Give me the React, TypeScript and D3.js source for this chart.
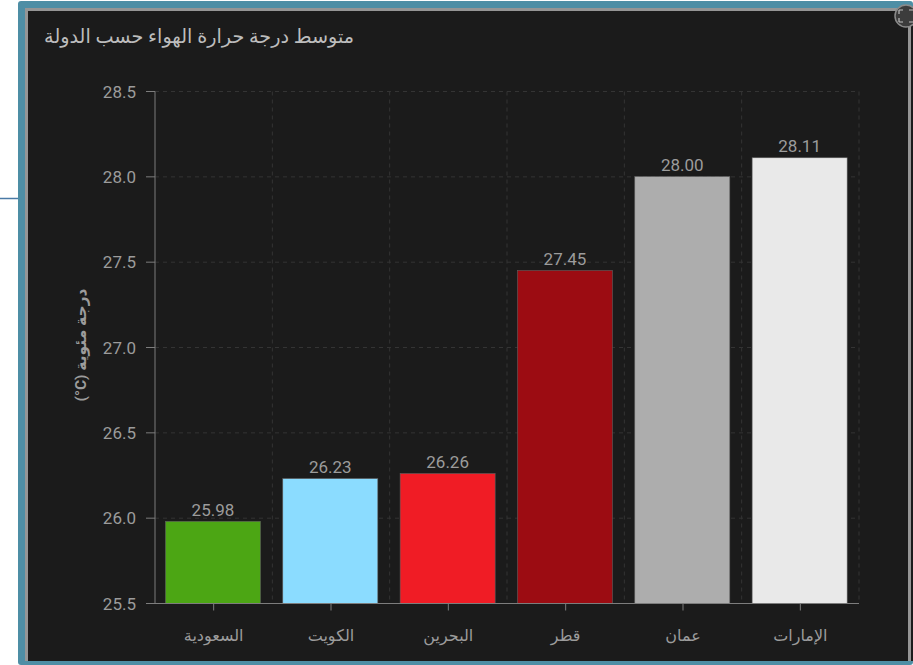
import React from "react";
import * as d3 from "d3";

const categories = ["السعودية", "الكويت", "البحرين", "قطر", "عمان", "الإمارات"];
const temps = [25.98, 26.23, 26.26, 27.45, 28.0, 28.11];
const barColors = ["#4ca614", "#8bdcff", "#f01c25", "#9c0c12", "#adadad", "#e9e9e9"];
const yTicks = [25.5, 26.0, 26.5, 27.0, 27.5, 28.0, 28.5];
const chartTitle = "متوسط درجة حرارة الهواء حسب الدولة";
const yTitle = "درجة مئوية \u2066(°C)\u2069";

const W = 913;
const H = 665;
const FONT = "Roboto, 'DejaVu Sans', sans-serif";
const plot = { l: 155, r: 859, t: 91.5, b: 603.5 };

export default function App() {
  const x = d3.scaleBand<string>().domain(categories).range([plot.l - 0.7, plot.r - 0.7]).paddingInner(0.19).paddingOuter(0.095);
  const band = d3.scaleBand<string>().domain(categories).range([plot.l, plot.r]);
  const y = d3.scaleLinear().domain([25.5, 28.5]).range([plot.b, plot.t]);
  const gridX = [...categories.map((c) => band(c)!).slice(1), plot.r];
  const axis = "#7d7d7d";
  const grid = "#343434";
  const label = "#9c9c9c";
  return (
    <svg width={W} height={H} viewBox={`0 0 ${W} ${H}`} style={{ position: "absolute", left: 0, top: 0, background: "#fff" }} fontFamily={FONT}>
      <line x1={0} x2={18} y1={198.5} y2={198.5} stroke="#4a7aa6" strokeWidth={1.5} />
      <rect x={18} y={1} width={W - 18} height={H - 1} rx={3} fill="#4e8ea5" />
      <rect x={25} y={8} width={W - 25} height={653} fill="#959595" />
      <rect x={28} y={11} width={880} height={650} fill="#1b1b1b" />
      <rect x={911} y={11} width={2} height={650} fill="#1b1b1b" />

      <text x={354} y={43} textAnchor="start" direction="rtl" fontSize={19.2} fill="#bdbdbd">{chartTitle}</text>

      {yTicks.map((t) => (
        <line key={t} x1={plot.l} x2={plot.r} y1={y(t)} y2={y(t)} stroke={grid} strokeDasharray="4 4" />
      ))}
      {gridX.map((gx) => (
        <line key={gx} x1={gx} x2={gx} y1={plot.t} y2={plot.b} stroke={grid} strokeDasharray="4 4" />
      ))}

      {categories.map((c, i) => (
        <g key={c}>
          <rect x={x(c)} y={y(temps[i]) - 0.3} width={x.bandwidth()} height={plot.b - y(temps[i]) + 0.3} fill={barColors[i]} stroke="#5f5f5f" strokeWidth={0.6} />
          <text x={x(c)! + x.bandwidth() / 2} y={y(temps[i]) - 6} textAnchor="middle" fontSize={17} fill={label}>
            {temps[i].toFixed(2)}
          </text>
          <line x1={band(c)! + band.bandwidth() / 2} x2={band(c)! + band.bandwidth() / 2} y1={plot.b} y2={plot.b + 7} stroke={axis} />
          <text x={band(c)! + band.bandwidth() / 2} y={641} textAnchor="middle" direction="rtl" fontSize={16} fill={label}>
            {c}
          </text>
        </g>
      ))}

      <line x1={plot.l} x2={plot.l} y1={plot.t} y2={plot.b} stroke={axis} />
      <line x1={plot.l} x2={plot.r} y1={plot.b} y2={plot.b} stroke={axis} />
      {yTicks.map((t) => (
        <g key={t}>
          <line x1={146} x2={plot.l} y1={y(t)} y2={y(t)} stroke={axis} />
          <text x={136} y={y(t) + 6} textAnchor="end" fontSize={17} fill={label}>{t.toFixed(1)}</text>
        </g>
      ))}

      <text transform="translate(86,345) rotate(-90)" textAnchor="middle" direction="rtl" fontSize={15.5} fontWeight={700} fill={label}>{yTitle}</text>

      <g>
        <circle cx={906} cy={16} r={11} fill="#3c3c3c" stroke="#8a8a8a" strokeWidth={1.5} />
        <path d="M899 10h4M899 10v4M913 10h-4M899 22h4M899 22v-4M913 22h-4" stroke="#bdbdbd" strokeWidth={1.2} fill="none" />
      </g>
    </svg>
  );
}
